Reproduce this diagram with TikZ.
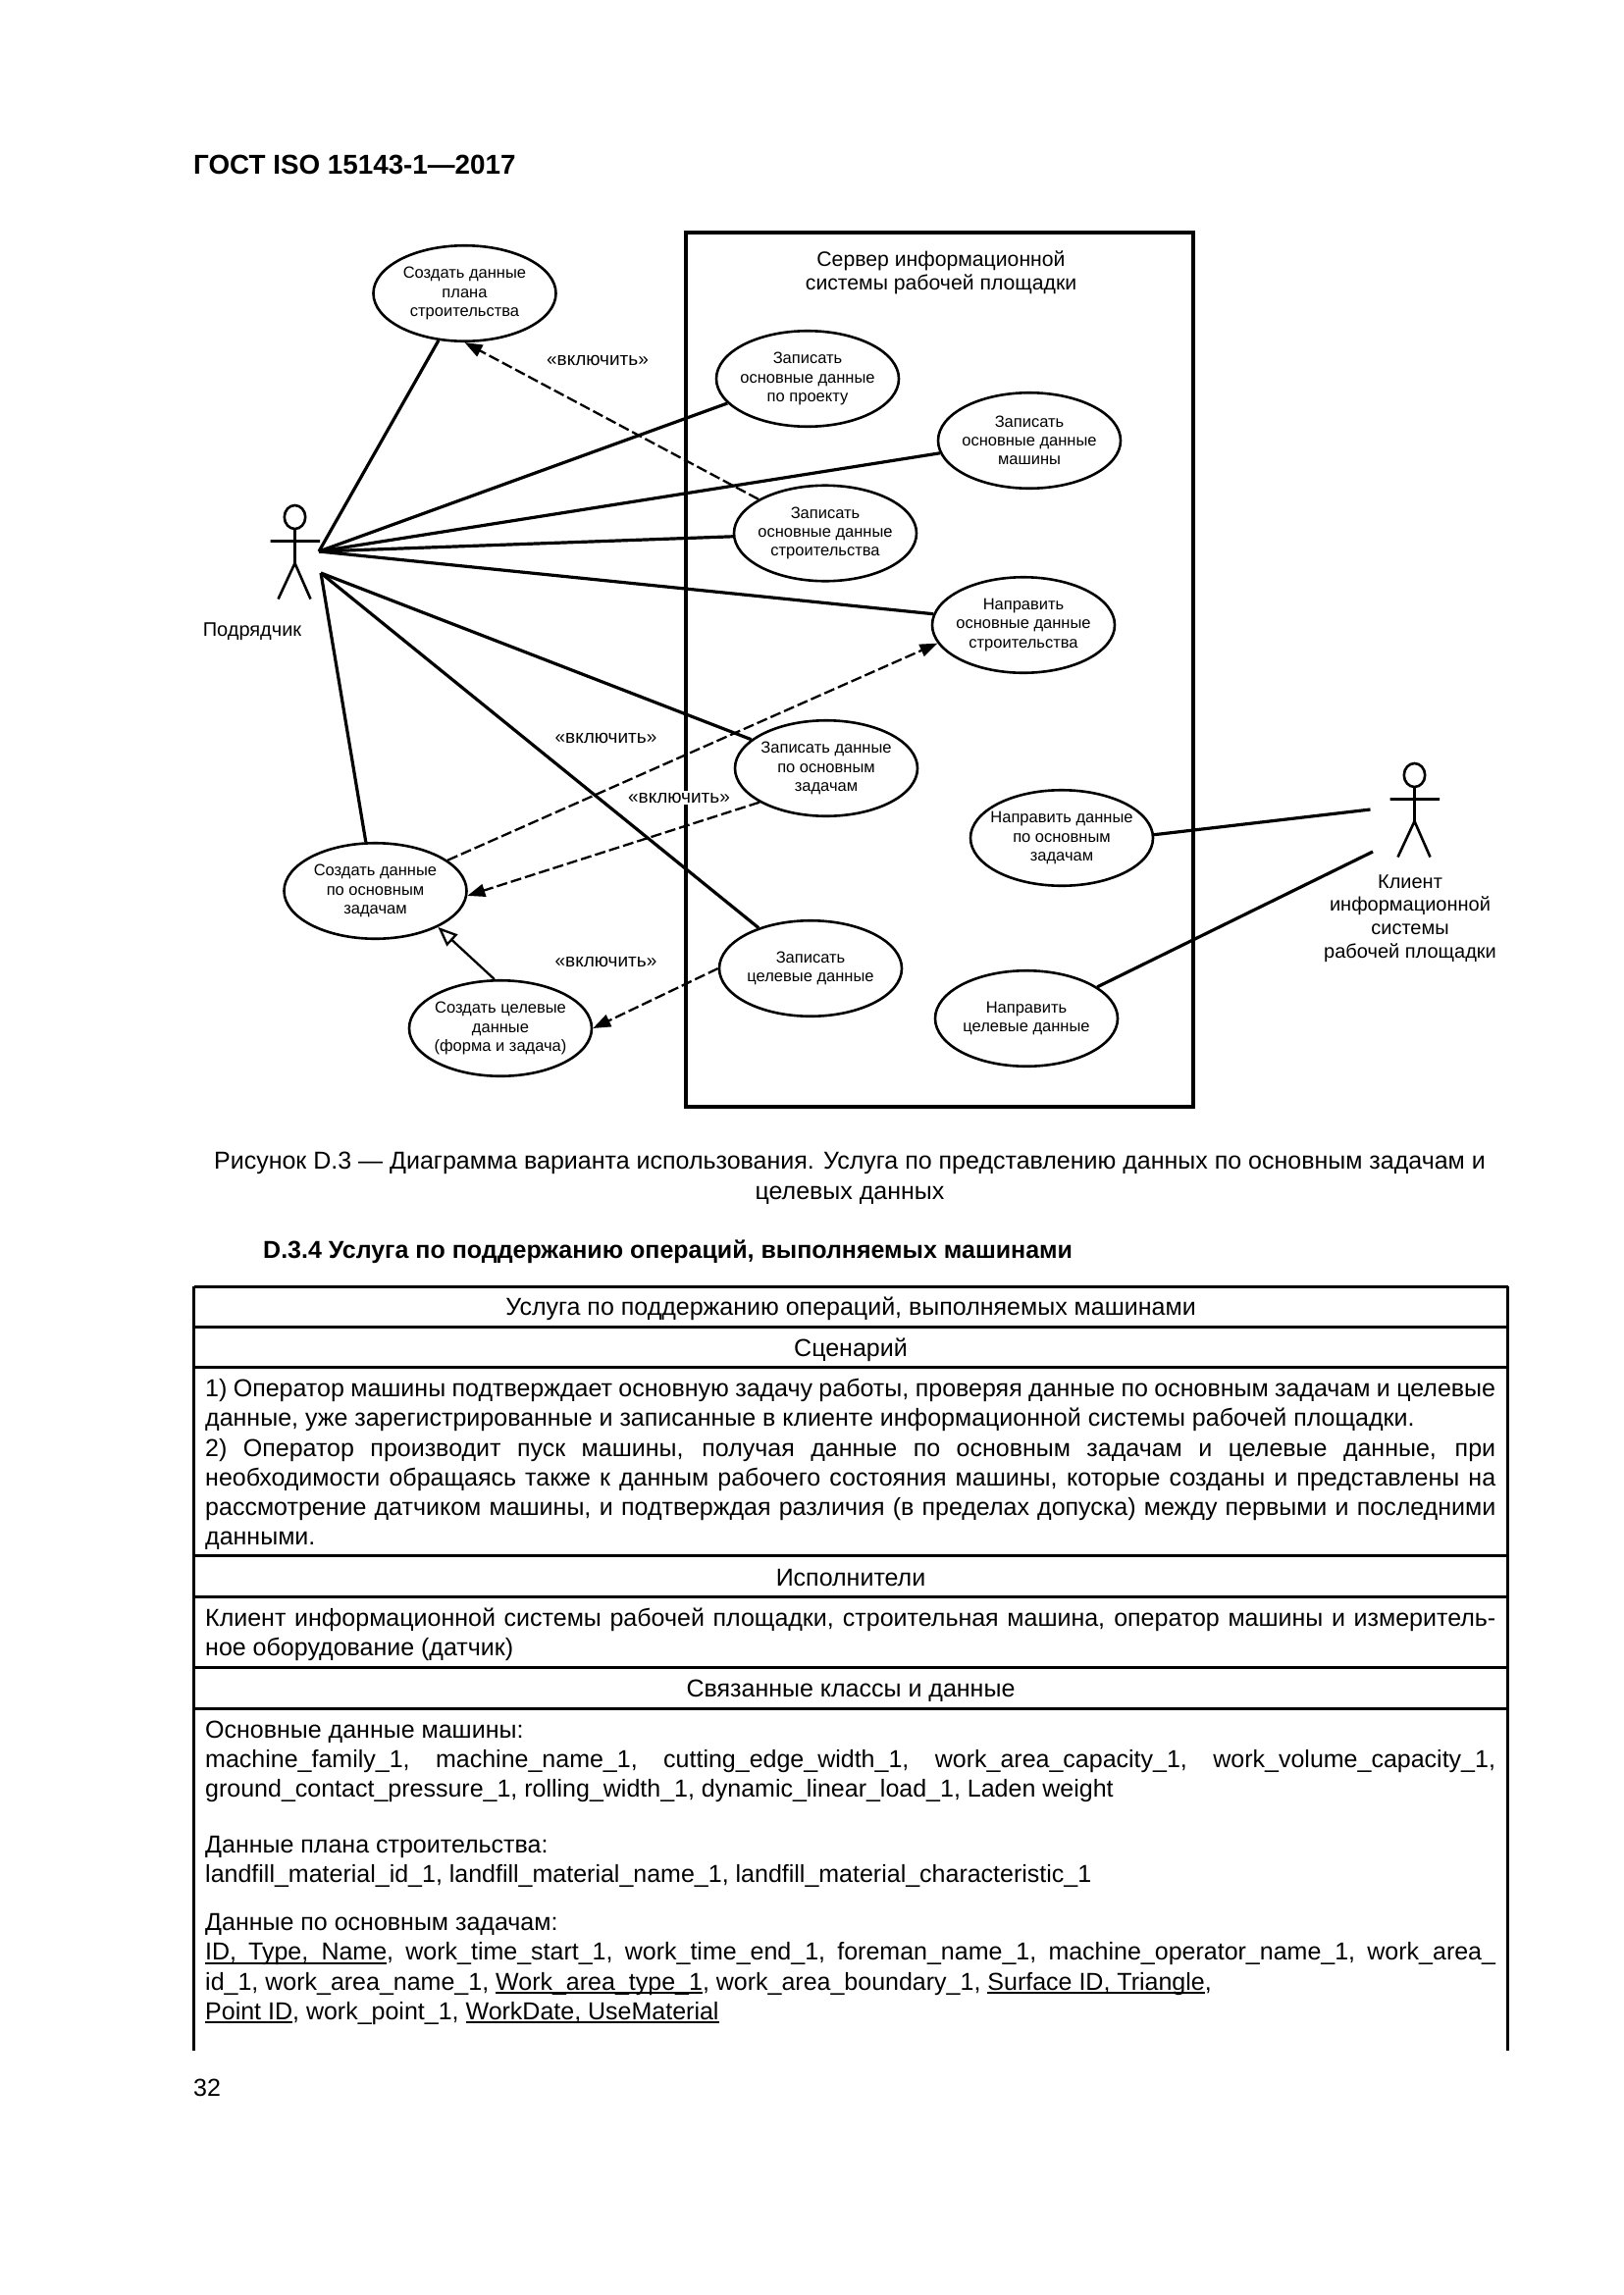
\documentclass[tikz,border=0pt]{standalone}
\usepackage{fontspec}
\setmainfont{Liberation Sans}
\usetikzlibrary{shapes.geometric, arrows.meta}
\newcommand{\jline}[1]{\makebox[1315pt][s]{\spaceskip=.278em plus 1em minus .16em\relax #1}}
\newcommand{\bodyfont}{\fontsize{25}{30.2}\selectfont}
\newsavebox{\ulbox}
\newcommand{\ulword}[1]{\leavevmode\sbox{\ulbox}{#1}\rlap{\rule[-4pt]{\wd\ulbox}{2pt}}\usebox{\ulbox}}

\begin{document}
\begin{tikzpicture}[
	x=1pt, y=-1pt,
	usecase/.style={ellipse, draw, line width=2.6pt, fill=white, minimum width=186pt, minimum height=97.5pt, inner xsep=-30pt, inner ysep=-15pt, align=center, font=\fontsize{16.5}{19.3}\selectfont},
	includelabel/.style={fill=white, inner sep=1.5pt, font=\fontsize{19}{22}\selectfont},
	actorlabel/.style={align=center, font=\fontsize{20}{23.7}\selectfont},
	assoc/.style={line width=3.2pt},
	include/.style={line width=2.3pt, dash pattern=on 11pt off 4pt, -{Triangle[length=18pt,width=13pt]}},
	extends/.style={line width=2.3pt, -{Triangle[open,fill=white,length=20pt,width=16pt]}},
	rulebar/.style={line width=3pt},
	bodytext/.style={anchor=west, inner sep=0pt, align=flush left, text width=1315pt, font=\bodyfont},
	celltitle/.style={inner sep=0pt, font=\bodyfont},
	actor/.pic={
		\draw[line width=2.6pt] (0,0) ellipse [x radius=10.7pt, y radius=12pt];
		\draw[line width=2.6pt] (0,12) -- (0,47) (-25,24.5) -- (25.5,24.5) (-17,83.5) -- (0,47) -- (16,83.5);
	}
]
	\useasboundingbox[fill=white] (0,0) rectangle (1654,2339);

	\node[anchor=west, inner sep=0pt, font=\fontsize{27.8}{32}\selectfont\bfseries] (gost) at (197,168) {ГОСТ ISO 15143-1—2017};

	\draw[line width=3.4pt] (699,237) rectangle (1216,1128);
	\node[align=center, font=\fontsize{21.2}{24}\selectfont] (server) at (959,278) {Сервер информационной\\системы рабочей площадки};

	\pic at (300.5,527) {actor};
	\pic at (1441.5,790) {actor};
	\coordinate (hubtop) at (325,562);
	\coordinate (hubbottom) at (327,584);
	\coordinate (clientup) at (1396.5,825);
	\coordinate (clientdown) at (1399,868);
	\node[actorlabel] (contractor) at (257,644) {Подрядчик};
	\node[actorlabel] (client) at (1437,936) {Клиент\\информационной\\системы\\рабочей площадки};

	\node[usecase] (plan) at (473.5,299) {Создать данные\\плана\\строительства};
	\node[usecase] (project) at (823,386) {Записать\\основные данные\\по проекту};
	\node[usecase] (machine) at (1049,449) {Записать\\основные данные\\машины};
	\node[usecase] (build) at (841,543.5) {Записать\\основные данные\\строительства};
	\node[usecase] (sendbuild) at (1043,637) {Направить\\основные данные\\строительства};
	\node[usecase] (tasks) at (842,783) {Записать данные\\по основным\\задачам};
	\node[usecase] (sendtasks) at (1082,854) {Направить данные\\по основным\\задачам};
	\node[usecase] (maketasks) at (382.5,908) {Создать данные\\по основным\\задачам};
	\node[usecase] (target) at (826,987) {Записать\\целевые данные};
	\node[usecase] (sendtarget) at (1046,1038) {Направить\\целевые данные};
	\node[usecase] (maketarget) at (510,1048) {Создать целевые\\данные\\(форма и задача)};

	\draw[assoc] (hubtop) -- (plan.241);
	\draw[assoc] (hubtop) -- (project.197);
	\draw[assoc] (hubtop) -- (machine.188);
	\draw[assoc] (hubtop) -- (build.182);
	\draw[assoc] (hubtop) -- (sendbuild.173);
	\draw[assoc] (hubbottom) -- (maketasks.101);
	\draw[assoc] (hubbottom) -- (target.142);
	\draw[assoc] (hubbottom) -- (tasks.159);
	\draw[assoc] (clientup) -- (sendtasks.2);
	\draw[assoc] (clientdown) -- (sendtarget.24);

	\draw[include] (build.153) -- (plan.270);
	\draw[include] (maketasks.23) -- (sendbuild.192);
	\draw[include] (tasks.207) -- (maketasks.-3);
	\draw[include] (target.180) -- (maketarget.0);
	\draw[extends] (maketarget.97) -- (maketasks.-30);

	\node[includelabel] (inc1) at (609,367) {«включить»};
	\node[includelabel] (inc2) at (617.5,752) {«включить»};
	\node[includelabel] (inc3) at (692,813) {«включить»};
	\node[includelabel] (inc4) at (617.5,980) {«включить»};

	\node[font=\bodyfont] (caption) at (866,1201) {\begin{tabular}{@{}c@{}}Рисунок D.3 — Диаграмма варианта использования. Услуга по представлению данных по основным задачам и\\[0pt]целевых данных\end{tabular}};
	\node[anchor=west, inner sep=0pt, font=\bodyfont\bfseries] (section) at (268,1276) {D.3.4 Услуга по поддержанию операций, выполняемых машинами};

	\foreach \y in {1311,1352,1393.5,1585.5,1627,1699.5,1741}
		\draw[rulebar] (197.5,\y) -- (1536.5,\y);
	\draw[rulebar] (197.5,1311) -- (197.5,2090);
	\draw[rulebar] (1536.5,1311) -- (1536.5,2090);

	\node[celltitle] (service) at (867,1334) {Услуга по поддержанию операций, выполняемых машинами};
	\node[celltitle] (scenario) at (867,1375.5) {Сценарий};
	\node[bodytext] (steps) at (209,1492.5) {\jline{1) Оператор машины подтверждает основную задачу работы, проверяя данные по основным задачам и целевые}\\
		данные, уже зарегистрированные и записанные в клиенте информационной системы рабочей площадки.\\
		\jline{2) Оператор производит пуск машины, получая данные по основным задачам и целевые данные, при}\\
		\jline{необходимости обращаясь также к данным рабочего состояния машины, которые созданы и представлены на}\\
		\jline{рассмотрение датчиком машины, и подтверждая различия (в пределах допуска) между первыми и последними}\\
		данными.};
	\node[celltitle] (actors) at (867,1608.5) {Исполнители};
	\node[bodytext] (actorlist) at (209,1666) {\jline{Клиент информационной системы рабочей площадки, строительная машина, оператор машины и измеритель-}\\
		ное оборудование (датчик)};
	\node[celltitle] (classes) at (867,1723) {Связанные классы и данные};
	\node[bodytext] (machinedata) at (209,1795.5) {Основные данные машины:\\
		\jline{machine\_family\_1, machine\_name\_1, cutting\_edge\_width\_1, work\_area\_capacity\_1, work\_volume\_capacity\_1,}\\
		ground\_contact\_pressure\_1, rolling\_width\_1, dynamic\_linear\_load\_1, Laden weight};
	\node[bodytext] (plandata) at (209,1897.5) {Данные плана строительства:\\
		landfill\_material\_id\_1, landfill\_material\_name\_1, landfill\_material\_characteristic\_1};
	\node[bodytext] (taskdata) at (209,2007) {Данные по основным задачам:\\
		\jline{\ulword{\makebox[185pt][s]{ID, Type, Name}}, work\_time\_start\_1, work\_time\_end\_1, foreman\_name\_1, machine\_operator\_name\_1, work\_area\_}\\
		id\_1, work\_area\_name\_1, \ulword{Work\_area\_type\_1}, work\_area\_boundary\_1, \ulword{Surface ID, Triangle},\\
		\ulword{Point ID}, work\_point\_1, \ulword{WorkDate, UseMaterial}};

	\node[anchor=west, inner sep=0pt, font=\bodyfont] (pagenumber) at (197,2128) {32};
\end{tikzpicture}
\end{document}
